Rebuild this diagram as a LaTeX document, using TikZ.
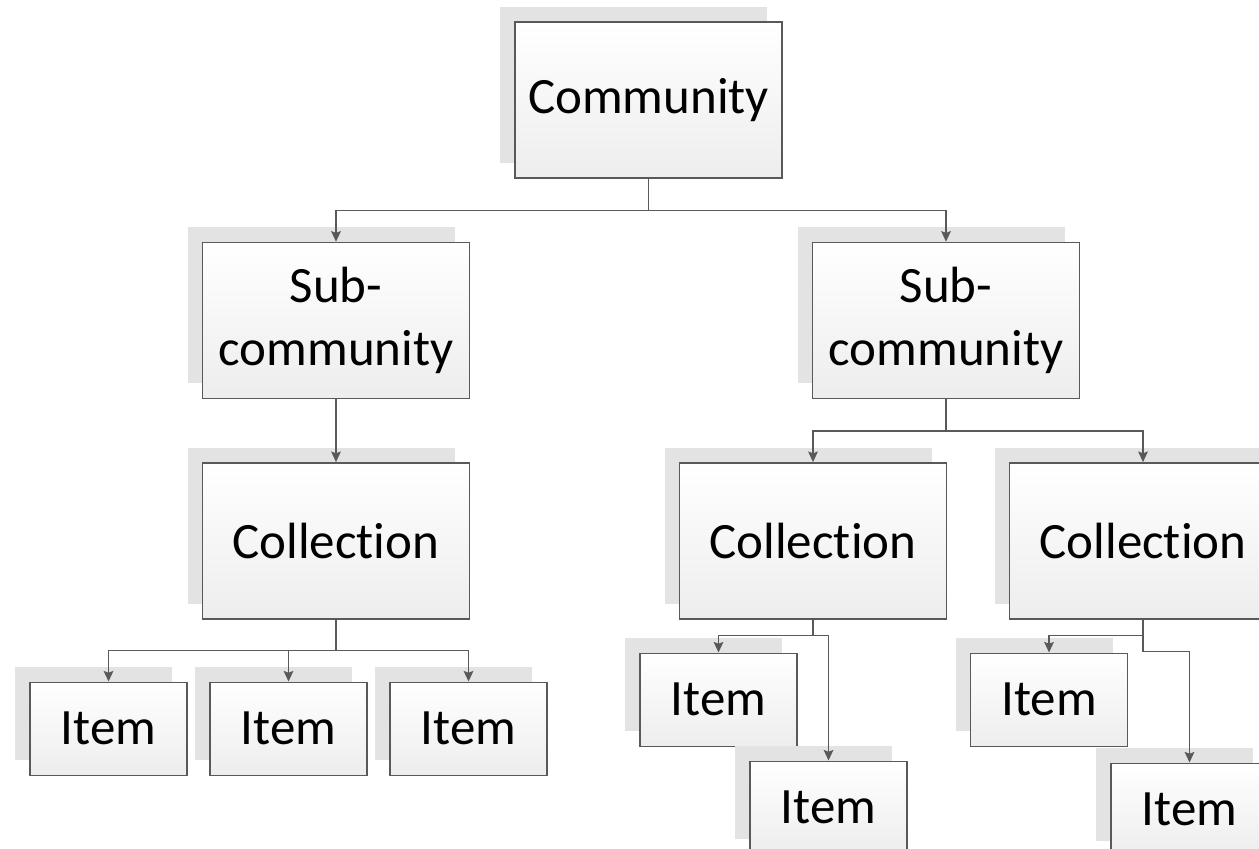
\documentclass[tikz,border=0pt]{standalone}
\usepackage{fontspec}
\setmainfont[RawFeature={-liga;-clig}]{Carlito}
\usetikzlibrary{positioning,shadows,arrows.meta}

\begin{document}
\begin{tikzpicture}[
		box/.style={draw=black!65, line width=0.8pt, top color=white, bottom color=black!7, drop shadow={shadow xshift=-0.3cm, shadow yshift=0.3cm, fill=black!11, opacity=1}, inner sep=0pt, align=center, font=\fontsize{29}{36.4}\selectfont},
		bigbox/.style={box, minimum width=5.34cm, minimum height=3.12cm},
		itembox/.style={box, minimum width=3.14cm, minimum height=1.86cm},
		conn/.style={-{Stealth[length=6pt,width=5.5pt,inset=1pt]}, draw=black!65, line width=0.8pt}
	]
		\useasboundingbox (0,0) rectangle (25.18,-16.98);
		\clip (0,0) rectangle (25.18,-16.98);
		
		\node[bigbox] (comm) at (12.97,-2.0) {Community};
		
		\node[bigbox, below=1.26cm of comm, xshift=-6.25cm] (subL) {Sub-\\community};
		\node[bigbox, below=1.26cm of comm, xshift=5.95cm] (subR) {Sub-\\community};
		
		\node[bigbox, below=1.26cm of subL] (colL) {Collection};
		\node[bigbox, below=1.26cm of subR, xshift=-2.66cm] (colRa) {Collection};
		\node[bigbox, below=1.26cm of subR, xshift=3.94cm] (colRb) {Collection};
		
		\node[itembox, below=1.24cm of colL, xshift=-4.55cm] (itemLa) {Item};
		\node[itembox, below=1.24cm of colL, xshift=-0.95cm] (itemLb) {Item};
		\node[itembox, below=1.24cm of colL, xshift=2.65cm] (itemLc) {Item};
		
		\node[itembox, below=0.66cm of colRa, xshift=-1.89cm] (itemRa1) {Item};
		\node[itembox, below=2.82cm of colRa, xshift=0.31cm] (itemRa2) {Item};
		\node[itembox, below=0.66cm of colRb, xshift=-1.88cm] (itemRb1) {Item};
		\node[itembox, below=2.86cm of colRb, xshift=0.93cm] (itemRb2) {Item};
		
		\draw[conn] (comm.south) -- ++(0,-0.64) -| (subL.north);
		\draw[conn] (comm.south) -- ++(0,-0.64) -| (subR.north);
		\draw[conn] (subL.south) -- (colL.north);
		\draw[conn] (subR.south) -- ++(0,-0.64) -| (colRa.north);
		\draw[conn] (subR.south) -- ++(0,-0.64) -| (colRb.north);
		\draw[conn] (colL.south) -- ++(0,-0.62) -| (itemLa.north);
		\draw[conn] (colL.south) -- ++(0,-0.62) -| (itemLb.north);
		\draw[conn] (colL.south) -- ++(0,-0.62) -| (itemLc.north);
		\draw[conn] (colRa.south) -- ++(0,-0.32) -| (itemRa1.north);
		\draw[conn] (colRa.south) -- ++(0,-0.32) -| (itemRa2.north);
		\draw[conn] (colRb.south) -- ++(0,-0.32) -| (itemRb1.north);
		\draw[conn] (colRb.south) -- ++(0,-0.64) -| (itemRb2.north);
	\end{tikzpicture}
\end{document}
